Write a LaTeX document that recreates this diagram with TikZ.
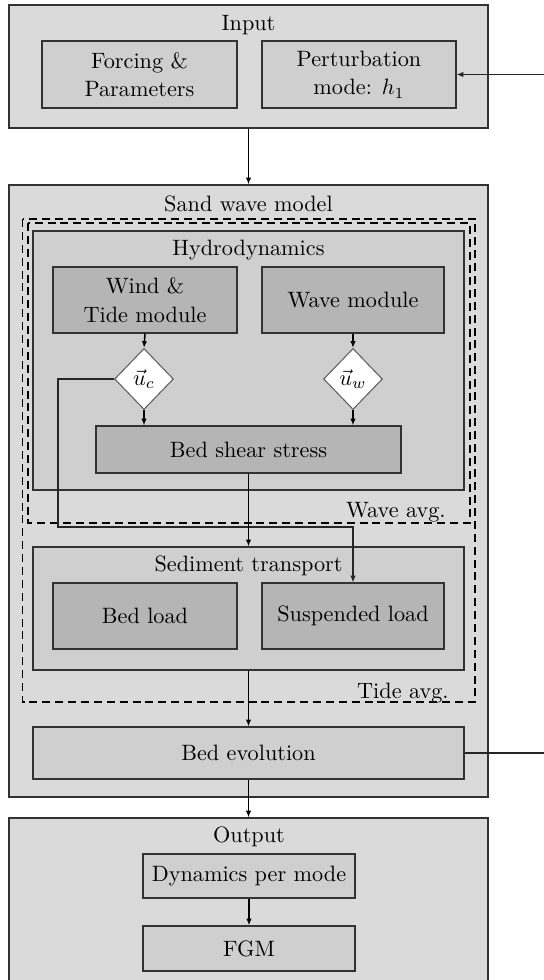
\documentclass[tikz,border=0pt]{standalone}
\usetikzlibrary{arrows.meta,shapes.geometric}
\definecolor{lightfill}{RGB}{218,218,218}
\definecolor{midfill}{RGB}{207,207,207}
\definecolor{darkfill}{RGB}{181,181,181}
\definecolor{bordc}{RGB}{50,50,50}
\definecolor{diamc}{RGB}{100,100,100}
\begin{document}
\begin{tikzpicture}[x=0.45pt,y=-0.45pt,
  font=\fontsize{10}{12.8}\selectfont,
  box/.style={draw=bordc,line width=0.55pt,inner sep=0pt,align=center},
  lbox/.style={box,fill=lightfill},
  mbox/.style={box,fill=midfill},
  dbox/.style={box,fill=darkfill},
  sz/.style 2 args={minimum width=#1*0.45pt,minimum height=#2*0.45pt},
  avgbox/.style={draw=black,line width=0.5pt,dash pattern=on 3.6pt off 2.2pt},
  dia/.style={diamond,draw=diamc,fill=white,line width=0.5pt,inner sep=0pt,
              minimum width=26.5pt,minimum height=27.5pt},
  arr/.style={draw=black,line width=0.7pt,-{Latex[length=3pt,width=2.4pt]}},
  thinarr/.style={draw=black!85,line width=0.5pt,-{Latex[length=3pt,width=2.4pt]}},
  ttl/.style={inner sep=0pt}]
\useasboundingbox (0,0) rectangle (544,980);

% Input
\node[lbox,sz={479}{123}] (input) at (248.5,66.5) {};
\node[ttl] (inputt) at (248.5,25) {Input};
\node[mbox,sz={195}{67}] (forc) at (139.5,74.5) {Forcing \&\\Parameters};
\node[mbox,sz={194}{67}] (pert) at (359,74.5) {Perturbation\\mode: $h_1$};

% Sand wave model
\node[lbox,sz={479}{612}] (sand) at (248.5,491) {};
\node[ttl] (sandt) at (248.5,204) {Sand wave model};
\draw[avgbox] (22.7,219) rectangle (475,702);
\draw[avgbox] (28,223) rectangle (470,523);
\node[mbox,sz={431}{259}] (hydro) at (248.5,360.5) {};
\node[ttl] (hydrot) at (248.5,250) {Hydrodynamics};
\node[dbox,sz={184}{66}] (wt) at (145,300) {Wind \&\\Tide module};
\node[dbox,sz={182}{66}] (wm) at (353,300) {Wave module};
\node[dia] (uc) at (144,379) {$\vec{u}_c$};
\node[dia] (uw) at (353,379) {$\vec{u}_w$};
\node[dbox,sz={305}{47}] (bss) at (248.5,449.5) {Bed shear stress};
\node[ttl,anchor=east] (wavg) at (446,512) {Wave avg.};

\node[mbox,sz={431}{123}] (sed) at (248.5,608.5) {};
\node[ttl] (sedt) at (248.5,566) {Sediment transport};
\node[dbox,sz={184}{66}] (bl) at (145,616) {Bed load};
\node[dbox,sz={182}{66}] (sl) at (353,616) {Suspended load};
\node[ttl,anchor=east] (tavg) at (449,693) {Tide avg.};

\node[mbox,sz={431}{52}] (bedevo) at (248.5,753) {Bed evolution};

% Output
\node[lbox,sz={479}{177}] (output) at (248.5,906.5) {};
\node[ttl] (outputt) at (249,837) {Output};
\node[mbox,sz={212}{44}] (dyn) at (249,876) {Dynamics per mode};
\node[mbox,sz={212}{45}] (fgm) at (249,948.5) {FGM};

% connectors
\draw[arr] (input.south) -- (sand.north);
\coordinate (fbr) at (560,753);
\draw[thinarr] (bedevo.east) -- (fbr) |- (pert.east);
\draw[arr] (wt.south) -- (uc.north);
\draw[arr] (wm.south) -- (uw.north);
\draw[arr] (uc.south) -- (uc.south |- bss.north);
\draw[arr] (uw.south) -- (uw.south |- bss.north);
\coordinate (ucl) at (58,527);
\draw[thinarr] (uc.west) -| (ucl) -| (sl.north);
\draw[arr] (bss.south) -- (sed.north);
\draw[arr] (sed.south) -- (bedevo.north);
\draw[arr] (bedevo.south) -- (output.north);
\draw[arr] (dyn.south) -- (fgm.north);
\end{tikzpicture}
\end{document}
